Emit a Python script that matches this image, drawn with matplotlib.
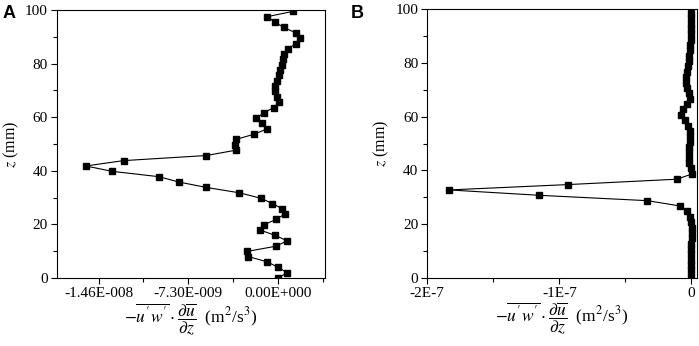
import numpy as np
import matplotlib
matplotlib.use("Agg")
import matplotlib.pyplot as plt
from matplotlib.ticker import FixedLocator

plt.rcParams['font.family'] = ['Liberation Serif', 'DejaVu Serif']
plt.rcParams['mathtext.fontset'] = 'stix'

# panel A: height (mm) and production term (units of 1e-9 m2/s3)
z_a = [0.0, 2.0, 4.0, 6.0, 8.0, 9.9, 11.9, 13.9, 15.9, 17.9, 19.9, 21.9, 23.9,
       25.9, 27.8, 29.8, 31.8, 33.8, 35.8, 37.8, 39.8, 41.8, 43.8, 45.7, 47.7,
       49.7, 51.7, 53.7, 55.7, 57.7, 59.7, 61.7, 63.6, 65.6, 67.6, 69.6, 71.6,
       73.6, 75.6, 77.6, 79.6, 81.6, 83.5, 85.5, 87.5, 89.5, 91.5, 93.5, 95.5,
       97.5, 99.5]
p_a = [0.0, 0.73, 0.0, -0.87, -2.43, -2.54, -0.14, 0.73, -0.24, -1.46, -1.14,
       -0.14, 0.54, 0.30, -0.46, -1.43, -3.16, -5.84, -8.06, -9.68, -13.49,
       -15.63, -12.57, -5.84, -3.43, -3.49, -3.43, -1.92, -0.87, -1.35, -1.76,
       -1.14, -0.35, 0.08, -0.05, -0.24, -0.27, -0.05, 0.08, 0.19, 0.32, 0.43,
       0.49, 0.84, 1.43, 1.76, 1.43, 0.46, -0.27, -0.89, 1.22]

# panel B
z_b = [0.7, 2.7, 4.7, 6.7, 8.7, 10.7, 12.7, 14.7, 16.7, 18.7, 20.7, 22.7, 24.7,
       26.7, 28.7, 30.7, 32.7, 34.7, 36.7, 38.7, 40.7, 42.7, 44.7, 46.7, 48.7,
       50.7, 52.7, 54.7, 56.7, 58.7, 60.7, 62.7, 64.7, 66.7, 68.7, 70.7, 72.7,
       74.7, 76.7, 78.7, 80.7, 82.7, 84.7, 86.7, 88.7, 90.7, 92.7, 94.7, 96.7,
       98.7]
p_b = [-0.5, -0.5, -0.4, -0.3, -0.3, -0.2, 0.0, 0.2, 0.3, 0.2, -0.2, -1.2, -3.5,
       -8.3, -33.3, -115.2, -183.5, -93.3, -10.9, 0.7, -0.5, -1.5, -2.0, -2.2,
       -1.8, -1.2, -0.8, -1.0, -2.5, -4.5, -8.0, -6.5, -3.0, -1.0, -1.5, -3.0,
       -4.0, -4.0, -3.0, -2.5, -2.0, -1.5, -1.0, -0.8, -0.5, -0.3, -0.2, 0.0,
       0.0, 0.0]
scale = 1e-9

ticks_a = [-1.46e-8, -7.3e-9, 0.0]
labels_a = ['-1.46E-008', '-7.30E-009', '0.00E+000']
ticks_b = [-2e-7, -1e-7, 0.0]
labels_b = ['-2E-7', '-1E-7', '0']

xlab = r"$-\overline{u'w'}\cdot\dfrac{\partial\overline{u}}{\partial z}$  (m$^2$/s$^3$)"

fig = plt.figure(figsize=(6.99, 3.46), dpi=100)
ax1 = fig.add_axes([0.0815, 0.1965, 0.3834, 0.7746])
ax2 = fig.add_axes([0.6113, 0.1974, 0.3854, 0.7757])


def style(ax, z, p, ticks, labels, minors, xlim):
    ax.plot(np.array(p) * scale, z, '-s', color='black', lw=0.8, ms=4.2)
    ax.set_xlim(*xlim)
    ax.set_ylim(0, 100)
    ax.xaxis.set_major_locator(FixedLocator(ticks))
    ax.set_xticklabels(labels)
    ax.xaxis.set_minor_locator(FixedLocator(minors))
    ax.set_yticks([0, 20, 40, 60, 80, 100])
    ax.yaxis.set_minor_locator(FixedLocator([10, 30, 50, 70, 90]))
    ax.tick_params(which='major', direction='out', length=4.5, width=0.8,
                   labelsize=11, pad=2)
    ax.tick_params(which='minor', direction='out', length=3, width=0.8)
    for s in ax.spines.values():
        s.set_linewidth(0.8)
    ax.set_xlabel(xlab, fontsize=12.5, labelpad=1)
    ax.set_ylabel('$z$ (mm)', fontsize=11.5)
    ax.yaxis.set_label_coords(-0.133, 0.5)


style(ax1, z_a, p_a, ticks_a, labels_a, [-1.095e-8, -3.65e-9, 3.65e-9],
      (-1.798e-8, 3.81e-9))
style(ax2, z_b, p_b, ticks_b, labels_b, [-1.5e-7, -0.5e-7], (-2e-7, 0.04e-7))

fig.text(0.003, 0.985, 'A', fontsize=13, fontweight='bold',
         family='Liberation Sans', va='top', ha='left')
fig.text(0.502, 0.985, 'B', fontsize=13, fontweight='bold',
         family='Liberation Sans', va='top', ha='left')

fig.savefig('out.png', dpi=100)
